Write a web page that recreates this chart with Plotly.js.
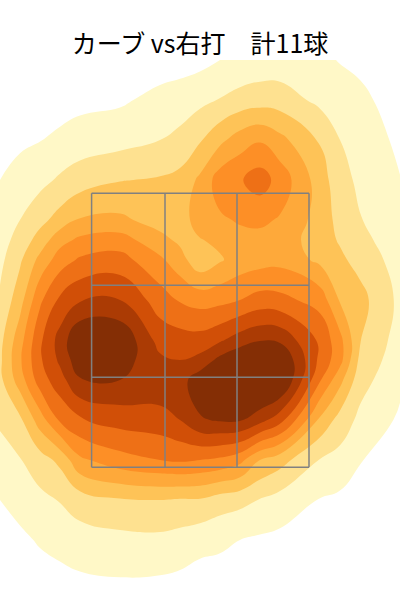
<!DOCTYPE html>
<html><head><meta charset="utf-8">
<script src="https://cdn.plot.ly/plotly-3.0.1.min.js"></script>
<style>html,body{margin:0;padding:0;background:#fff}</style></head>
<body><div id="c" style="width:400px;height:600px"></div>
<script>
const titleText = "カーブ vs右打　計11球";
const xGrid = [0,0.5,1,1.5,2,3,4,4.5,5,5.5,6,6.5,7,8,8.5,9,10];
const yGrid = [0,1,2,3,4,4.5,5,6,7,7.5,8,9,10,11,12,13,14];
const density = [
 [0.2,0.15,0.1,0.15,0.2,0.3,0.5,0.6,0.7,1.0,1.15,1.35,1.4,1.2,0.95,0.75,0.2],
 [0.4,0.4,0.5,0.6,0.7,0.85,1.3,1.45,1.75,2.05,2.4,2.55,2.5,1.75,1.45,1.25,0.5],
 [0.7,0.85,0.97,1.2,1.47,1.65,2.0,2.3,2.9,3.75,4.5,4.9,4.3,2.9,2.0,1.55,0.8],
 [1.0,1.3,1.7,2.15,2.5,2.95,3.1,3.3,4.2,5.5,5.9,6.5,5.6,3.5,2.35,1.8,1.03],
 [1.4,2.0,2.7,3.4,4.1,4.2,3.6,3.6,4.4,4.85,5.1,5.2,4.9,3.6,2.65,2.05,1.25],
 [1.55,2.4,3.4,4.65,5.2,5.45,4.3,3.8,3.95,4.2,4.7,4.7,4.6,3.46,2.9,2.3,1.4],
 [1.75,2.85,4.3,5.5,6.15,6.4,5.2,4.4,3.3,3.9,4.4,4.6,4.7,3.77,3.2,2.65,1.55],
 [2.15,3.6,5.8,7.2,7.9,8.0,6.5,5.9,5.6,5.7,6.0,6.4,6.3,5.6,3.9,3.35,1.75],
 [2.7,4.6,6.8,8.4,10.0,9.9,7.6,7.45,7.4,7.85,8.5,8.9,8.8,6.8,5.3,3.05,1.55],
 [2.8,4.85,6.85,8.2,9.7,9.5,8.2,8.0,8.3,9.3,9.9,10.8,10.1,6.75,5.35,2.75,1.4],
 [2.75,4.5,6.5,7.6,8.9,9.0,8.7,8.6,9.6,10.0,10.5,10.8,10.3,6.1,4.3,2.4,1.2],
 [2.15,2.8,4.5,6.15,6.9,7.4,7.6,8.0,8.9,9.1,9.1,8.35,7.4,3.8,2.6,1.75,0.85],
 [1.6,1.95,2.55,3.25,4.8,5.6,6.0,6.15,6.0,5.8,5.3,4.0,3.4,1.95,1.65,1.05,0.5],
 [1.0,1.35,1.75,2.05,2.5,2.9,3.0,2.9,2.9,2.5,2.3,1.95,1.6,0.95,0.8,0.6,0.25],
 [0.6,0.8,1.1,1.35,1.55,1.7,1.75,1.6,1.35,1.2,1.0,0.85,0.75,0.4,0.3,0.25,0.1],
 [0.3,0.45,0.6,0.7,0.85,0.95,0.9,0.8,0.6,0.6,0.5,0.4,0.3,0.15,0.1,0.05,0],
 [0.1,0.15,0.2,0.25,0.3,0.3,0.3,0.25,0.2,0.15,0.1,0.08,0.05,0,0,0,0]
];
const bandColors = ["#ffffff","#fff8c7","#fee190","#fec357","#fea93a","#fd8f26","#ee7016","#d14f07","#ab3b04","#842e05"];
const zoneX = [2.29,4.125,5.925,7.725];
const zoneY = [3.33,5.63,7.93,10.18];

const scale = [];
bandColors.forEach((c,i)=>{ scale.push([i/bandColors.length,c]); scale.push([(i+1)/bandColors.length,c]); });

const traces = [{
  type:"contour", x:xGrid, y:yGrid, z:density,
  zauto:false, zmin:0, zmax:10, colorscale:scale, showscale:false, hoverinfo:"skip",
  autocontour:false,
  contours:{start:1,end:9,size:1,coloring:"fill",showlines:false},
  line:{width:0,smoothing:1.3}
}];
const lineStyle = {color:"#808080",width:1.5};
zoneX.forEach(x=>traces.push({type:"scatter",mode:"lines",x:[x,x],y:[zoneY[0],zoneY[3]],line:lineStyle,showlegend:false,hoverinfo:"skip"}));
zoneY.forEach(y=>traces.push({type:"scatter",mode:"lines",x:[zoneX[0],zoneX[3]],y:[y,y],line:lineStyle,showlegend:false,hoverinfo:"skip"}));

Plotly.newPlot("c",traces,{
  width:400,height:600,autosize:false,
  margin:{l:0,r:0,t:60,b:0},
  paper_bgcolor:"#fff",plot_bgcolor:"#fff",showlegend:false,
  title:{text:titleText,x:0.5,xanchor:"center",y:0.927,yanchor:"middle",
         font:{family:"'Noto Sans CJK JP',sans-serif",size:25,color:"#000"}},
  xaxis:{range:[0,10],visible:false,fixedrange:true},
  yaxis:{range:[13.5,0],visible:false,fixedrange:true}
},{staticPlot:true,displayModeBar:false});
</script></body></html>
